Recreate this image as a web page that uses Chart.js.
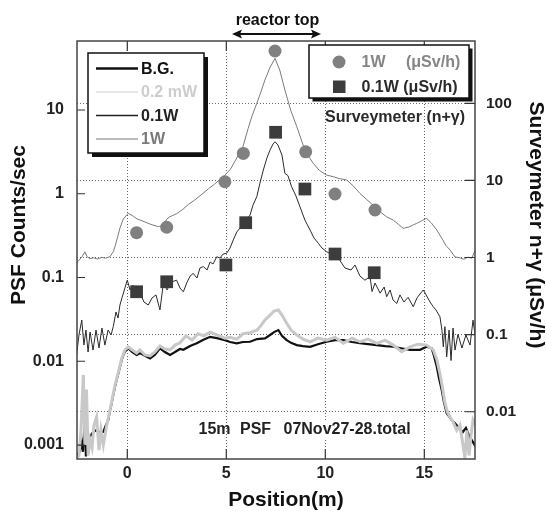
<!DOCTYPE html>
<html><head><meta charset="utf-8">
<script src="https://cdn.jsdelivr.net/npm/chart.js@4"></script>
<style>html,body{margin:0;padding:0;background:#fff}canvas{display:block}</style>
</head><body>
<canvas id="c" width="546" height="511" style="width:546px;height:511px"></canvas>
<script>
const FONT = '"Liberation Sans", Arial, Helvetica, sans-serif';

// axes
const xTicks = [0, 5, 10, 15];
const leftTicks = [0.001, 0.01, 0.1, 1, 10];
const leftTickLabels = ['0.001', '0.01', '0.1', '1', '10'];
const rightTicks = [0.01, 0.1, 1, 10, 100];
const rightTickLabels = ['0.01', '0.1', '1', '10', '100'];
const xMin = -2.54, xMax = 17.56;
const leftMin = 0.000681, leftMax = 66.7;
const rightMin = 0.002438, rightMax = 642.7;

// PSF counts/sec : B.G.
const bgX = [-2.56,-2.39,-2.30,-2.24,-2.14,-2.09,-1.98,-1.88,-1.73,-1.55,-1.38,-1.21,-1.08,-0.96,-0.87,-0.79,-0.71,-0.62,-0.54,-0.45,-0.37,-0.28,-0.20,-0.12,0.05,0.24,0.47,0.64,0.89,1.15,1.40,1.65,1.90,2.16,2.41,2.66,2.83,3.17,3.51,3.82,4.18,4.53,4.93,5.19,5.53,5.84,6.20,6.55,6.95,7.21,7.41,7.63,7.81,8.05,8.27,8.56,8.87,9.23,9.63,10.07,10.49,10.91,11.35,11.75,12.16,12.60,13.02,13.43,13.82,14.28,14.78,15.12,15.37,15.49,15.63,15.74,15.88,15.99,16.13,16.25,16.38,16.55,16.75,16.95,17.10,17.26,17.48,17.60];
const bgY = [0.0007,0.00087,0.00106,0.00083,0.00216,0.00073,0.00115,0.00126,0.00143,0.00151,0.0014,0.00144,0.00173,0.00199,0.00262,0.00315,0.00395,0.00497,0.00597,0.00718,0.00853,0.01035,0.0119,0.013,0.0143,0.0129,0.0119,0.0125,0.0116,0.0108,0.012,0.0143,0.0129,0.0119,0.0129,0.014,0.0137,0.0152,0.0164,0.0179,0.0196,0.0189,0.0179,0.017,0.0164,0.017,0.0171,0.0184,0.0188,0.0206,0.0223,0.0236,0.0201,0.0179,0.0166,0.0156,0.0152,0.0149,0.016,0.0171,0.0179,0.0179,0.017,0.0164,0.016,0.0156,0.0152,0.0149,0.0143,0.0137,0.0137,0.0149,0.0143,0.0116,0.0086,0.0063,0.00454,0.00326,0.00239,0.00221,0.00199,0.00182,0.0016,0.00143,0.0016,0.0013,0.00106,0.00095];

// PSF counts/sec : 0.2 mW
const mwX = [-2.56,-2.44,-2.34,-2.22,-2.14,-2.06,-1.98,-1.88,-1.78,-1.68,-1.55,-1.43,-1.33,-1.21,-1.04,-0.96,-0.79,-0.62,-0.45,-0.28,-0.12,0.05,0.24,0.47,0.64,0.89,1.15,1.40,1.65,1.90,2.16,2.41,2.66,2.96,3.27,3.57,3.87,4.18,4.53,4.93,5.19,5.54,5.84,6.20,6.55,6.70,6.95,7.21,7.41,7.63,7.81,8.05,8.27,8.56,8.87,9.23,9.63,10.07,10.49,10.91,11.35,11.75,12.16,12.60,13.02,13.43,13.86,14.28,14.68,15.12,15.45,15.63,15.79,15.92,16.04,16.17,16.30,16.45,16.64,16.80,16.95,17.05,17.15,17.26,17.36,17.46,17.60];
const mwY = [0.0007,0.00075,0.0015,0.00686,0.001,0.0046,0.00075,0.00115,0.00093,0.00173,0.00216,0.00087,0.0015,0.001,0.00173,0.0021,0.00326,0.0052,0.0074,0.0109,0.0137,0.0148,0.0137,0.0125,0.0137,0.0119,0.0116,0.0129,0.0152,0.014,0.0137,0.0156,0.0166,0.0201,0.0179,0.0213,0.0201,0.0223,0.0206,0.0189,0.0193,0.0184,0.0213,0.0219,0.0236,0.0258,0.0311,0.0356,0.0398,0.0409,0.0356,0.0284,0.0236,0.0206,0.0184,0.0171,0.0189,0.0179,0.0193,0.0164,0.0189,0.0171,0.0184,0.0164,0.0179,0.0156,0.013,0.0149,0.016,0.0156,0.0137,0.0105,0.0071,0.0048,0.0032,0.00247,0.00216,0.0019,0.0015,0.00173,0.001,0.0007,0.0015,0.00075,0.00132,0.002,0.00173];

// PSF counts/sec : 0.1W
const w01X = [-2.56,-2.44,-2.30,-2.19,-2.09,-1.98,-1.88,-1.73,-1.58,-1.43,-1.28,-1.13,-0.97,-0.82,-0.71,-0.57,-0.47,-0.37,-0.27,-0.12,0,0.14,0.29,0.47,0.64,0.84,1.06,1.25,1.45,1.65,1.82,2.01,2.21,2.49,2.66,2.83,3.02,3.17,3.33,3.52,3.67,3.84,4.03,4.18,4.33,4.52,4.68,4.83,5.02,5.19,5.35,5.53,5.69,5.94,6.20,6.35,6.54,6.70,6.87,7.05,7.21,7.36,7.46,7.61,7.81,7.96,8.11,8.30,8.52,8.72,8.97,9.23,9.43,9.65,9.83,10.07,10.29,10.58,10.79,10.99,11.30,11.50,11.75,12.00,12.26,12.36,12.51,12.77,12.97,13.10,13.27,13.42,13.61,13.77,13.97,14.18,14.44,14.63,14.78,14.95,15.09,15.29,15.45,15.59,15.79,15.89,15.96,16.04,16.13,16.25,16.35,16.45,16.55,16.70,16.90,17.10,17.31,17.46,17.60];
const w01Y = [0.0119,0.0206,0.0311,0.0156,0.0236,0.0129,0.0223,0.0136,0.0236,0.0144,0.0249,0.0156,0.0236,0.0206,0.0259,0.0388,0.0328,0.047,0.057,0.075,0.093,0.071,0.081,0.0618,0.067,0.051,0.047,0.057,0.062,0.041,0.085,0.071,0.088,0.093,0.075,0.0676,0.088,0.104,0.112,0.0986,0.13,0.135,0.123,0.153,0.145,0.177,0.171,0.19,0.195,0.225,0.28,0.349,0.39,0.46,0.557,0.734,0.923,1.34,1.92,2.67,3.33,3.93,4.18,3.82,2.9,1.75,1.65,1.21,0.94,0.70,0.486,0.369,0.296,0.256,0.225,0.203,0.191,0.186,0.153,0.13,0.123,0.141,0.104,0.093,0.102,0.068,0.086,0.065,0.077,0.059,0.071,0.054,0.049,0.062,0.051,0.058,0.0448,0.057,0.0635,0.071,0.062,0.051,0.0448,0.041,0.034,0.0236,0.0149,0.0259,0.0113,0.0236,0.0102,0.0249,0.0136,0.021,0.0144,0.0206,0.0156,0.031,0.018];

// PSF counts/sec : 1W
const w1X = [-2.56,-2.45,-2.30,-2.14,-2.05,-1.90,-1.70,-1.50,-1.30,-1.10,-0.87,-0.70,-0.60,-0.45,-0.37,-0.20,0.05,0.30,0.50,0.64,0.90,1.20,1.57,1.80,2.00,2.16,2.50,2.80,3.10,3.40,3.82,4.10,4.40,4.70,4.93,5.20,5.50,5.84,6.10,6.30,6.54,6.75,6.95,7.20,7.46,7.70,7.96,8.25,8.56,8.90,9.20,9.39,9.70,10.07,10.40,10.70,11.08,11.40,11.75,12.10,12.50,12.80,13.10,13.43,13.70,13.94,14.20,14.40,14.62,14.90,15.12,15.35,15.63,15.90,16.10,16.30,16.55,16.80,17.00,17.20,17.40,17.56];
const w1Y = [0.149,0.16,0.175,0.203,0.18,0.168,0.172,0.166,0.174,0.17,0.178,0.205,0.244,0.33,0.39,0.5,0.585,0.54,0.5,0.486,0.46,0.43,0.405,0.42,0.5,0.532,0.58,0.65,0.75,0.84,1.01,1.15,1.3,1.5,1.67,1.95,2.6,3.65,6.0,8.5,12.0,16.5,22.8,32,41.4,30,17.3,10,6.32,3.7,2.7,2.31,1.9,1.67,1.6,1.52,1.46,1.25,1.01,0.85,0.70,0.6,0.53,0.486,0.43,0.387,0.40,0.42,0.444,0.48,0.509,0.45,0.369,0.29,0.24,0.213,0.176,0.172,0.165,0.175,0.17,0.21];

// Surveymeter (uSv/h)
const sm1X = [0.47, 1.99, 4.93, 5.86, 7.46, 9.01, 10.49, 12.51];
const sm1Y = [2.1, 2.47, 9.6, 22.4, 477, 23.5, 6.67, 4.13];
const sm01X = [0.47, 1.99, 4.98, 5.98, 7.49, 8.97, 10.49, 12.47];
const sm01Y = [0.36, 0.485, 0.80, 2.83, 42.1, 7.73, 1.11, 0.635];

const pts = (xs, ys) => xs.map((x, i) => ({x: x, y: ys[i]}));
const near = (a, b) => Math.abs(Math.log10(a) - Math.log10(b)) < 1e-6;
const tickFont = {family: FONT, size: 16, weight: 'bold'};

const deco = {
  id: 'deco',
  afterDraw(chart) {
    const c = chart.ctx, a = chart.chartArea;
    const sx = chart.scales.x, sy = chart.scales.y, sy2 = chart.scales.y2;
    c.save();
    // inward ticks
    c.strokeStyle = '#333'; c.lineWidth = 1.2; c.setLineDash([]);
    c.beginPath();
    leftTicks.forEach(v => { const y = sy.getPixelForValue(v); c.moveTo(a.left, y); c.lineTo(a.left + 8, y); });
    rightTicks.forEach(v => { const y = sy2.getPixelForValue(v); c.moveTo(a.right, y); c.lineTo(a.right - 10, y); });
    xTicks.forEach(v => { const x = sx.getPixelForValue(v); c.moveTo(x, a.top); c.lineTo(x, a.top + 10); c.moveTo(x, a.bottom); c.lineTo(x, a.bottom - 10); });
    c.stroke();
    // frame
    c.strokeStyle = '#444'; c.lineWidth = 1.5;
    c.strokeRect(a.left, a.top, a.right - a.left, a.bottom - a.top);

    // left legend
    c.fillStyle = '#111'; c.fillRect(92, 57, 116, 100);
    c.fillStyle = '#fff'; c.fillRect(88, 53, 116, 100);
    c.strokeStyle = '#111'; c.lineWidth = 1.5; c.strokeRect(88, 53, 116, 100);
    const lrows = [
      {t: 'B.G.', y: 68.5, lc: '#111', lw: 2.5, tc: '#111'},
      {t: '0.2 mW', y: 92, lc: '#cfcfcf', lw: 1.2, tc: '#cdcdcd'},
      {t: '0.1W', y: 115.5, lc: '#222', lw: 1.3, tc: '#222'},
      {t: '1W', y: 139, lc: '#7a7a7a', lw: 1.1, tc: '#7a7a7a'}
    ];
    c.font = 'bold 16px ' + FONT; c.textBaseline = 'middle'; c.textAlign = 'left';
    lrows.forEach(r => {
      c.strokeStyle = r.lc; c.lineWidth = r.lw;
      c.beginPath(); c.moveTo(96, r.y); c.lineTo(138, r.y); c.stroke();
      c.fillStyle = r.tc; c.fillText(r.t, 141, r.y + 1);
    });

    // right legend
    c.fillStyle = '#111'; c.fillRect(312.5, 48.5, 160, 53);
    c.fillStyle = '#fff'; c.fillRect(309, 45, 160, 53);
    c.strokeStyle = '#111'; c.lineWidth = 1.5; c.strokeRect(309, 45, 160, 53);
    c.fillStyle = '#808080';
    c.beginPath(); c.arc(339, 62, 6.5, 0, Math.PI * 2); c.fill();
    c.fillStyle = '#3c3c3c'; c.fillRect(333, 80.5, 12.5, 12.5);
    c.fillStyle = '#858585';
    c.fillText('1W', 361.5, 62.5);
    c.fillText('(\u03bcSv/h)', 406, 62.5);
    c.fillStyle = '#2a2a2a';
    c.fillText('0.1W (\u03bcSv/h)', 361.5, 87.5);
    c.fillText('Surveymeter (n+\u03b3)', 325, 117.5);

    // bottom annotation
    c.fillStyle = '#fff'; c.fillRect(281, 420, 138, 19);
    c.fillStyle = '#222';
    c.fillText('15m', 198.5, 430);
    c.fillText('PSF', 240, 430);
    c.fillText('07Nov27-28.total', 283.5, 430);

    // reactor top
    c.fillStyle = '#111'; c.textAlign = 'center'; c.textBaseline = 'alphabetic';
    c.fillText('reactor top', 277.5, 25);
    c.strokeStyle = '#111'; c.lineWidth = 2;
    c.beginPath(); c.moveTo(238, 34); c.lineTo(315, 34); c.stroke();
    c.beginPath(); c.moveTo(232, 34); c.lineTo(242, 29.5); c.lineTo(240, 34); c.lineTo(242, 38.5); c.closePath(); c.fill();
    c.beginPath(); c.moveTo(321, 34); c.lineTo(311, 29.5); c.lineTo(313, 34); c.lineTo(311, 38.5); c.closePath(); c.fill();

    // axis titles
    c.fillStyle = '#111'; c.textAlign = 'center'; c.textBaseline = 'middle';
    c.font = 'bold 21px ' + FONT;
    c.save(); c.translate(19, 225); c.rotate(-Math.PI / 2); c.fillText('PSF Counts/sec', 0, 0); c.restore();
    c.save(); c.translate(536, 225); c.rotate(Math.PI / 2); c.fillText('Surveymeter n+\u03b3 (\u03bcSv/h)', 0, 0); c.restore();
    c.fillText('Position(m)', 286, 500);
    c.restore();
  }
};

new Chart(document.getElementById('c'), {
  type: 'line',
  data: {
    datasets: [
      {label: '0.1W (uSv/h)', data: pts(sm01X, sm01Y), yAxisID: 'y2', showLine: false, pointStyle: 'rect', pointRadius: 9, pointBackgroundColor: '#3c3c3c', pointBorderWidth: 0, order: 0},
      {label: '1W (uSv/h)', data: pts(sm1X, sm1Y), yAxisID: 'y2', showLine: false, pointStyle: 'circle', pointRadius: 6.5, pointBackgroundColor: '#808080', pointBorderWidth: 0, order: 1},
      {label: '0.2 mW', data: pts(mwX, mwY), yAxisID: 'y', borderColor: '#c8c8c8', borderWidth: 3, pointRadius: 0, order: 2},
      {label: 'B.G.', data: pts(bgX, bgY), yAxisID: 'y', borderColor: '#111', borderWidth: 2.2, pointRadius: 0, order: 3},
      {label: '0.1W', data: pts(w01X, w01Y), yAxisID: 'y', borderColor: '#2a2a2a', borderWidth: 1, pointRadius: 0, order: 4},
      {label: '1W', data: pts(w1X, w1Y), yAxisID: 'y', borderColor: '#7a7a7a', borderWidth: 1, pointRadius: 0, order: 5}
    ]
  },
  options: {
    responsive: false, animation: false, devicePixelRatio: 1,
    layout: {padding: {top: 41, left: 0, right: 0, bottom: 0}},
    plugins: {legend: {display: false}, tooltip: {enabled: false}, title: {display: false}},
    elements: {line: {tension: 0}},
    scales: {
      x: {
        type: 'linear', position: 'bottom', min: xMin, max: xMax, bounds: 'data',
        afterBuildTicks: s => { s.ticks = xTicks.map(v => ({value: v})); },
        afterFit: s => { s.height = 52; },
        grid: {color: '#666', lineWidth: 1, drawTicks: false},
        border: {display: false, dash: [1, 2]},
        ticks: {padding: 5, color: '#222', font: tickFont, maxRotation: 0, autoSkip: false, callback: v => String(v)}
      },
      y: {
        type: 'logarithmic', position: 'left', min: leftMin, max: leftMax, bounds: 'data',
        afterBuildTicks: s => { s.ticks = leftTicks.map(v => ({value: v})); },
        afterFit: s => { s.width = 77; },
        grid: {display: false, drawTicks: false},
        border: {display: false},
        ticks: {padding: 13, color: '#222', font: tickFont, autoSkip: false,
          callback: v => { const i = leftTicks.findIndex(t => near(t, v)); return i >= 0 ? leftTickLabels[i] : ''; }}
      },
      y2: {
        type: 'logarithmic', position: 'right', min: rightMin, max: rightMax, bounds: 'data',
        afterBuildTicks: s => { s.ticks = rightTicks.map(v => ({value: v})); },
        afterFit: s => { s.width = 71; },
        grid: {color: '#666', lineWidth: 1, drawTicks: false},
        border: {display: false, dash: [1, 2]},
        ticks: {padding: 11, color: '#222', font: {family: FONT, size: 15.5, weight: 'bold'}, autoSkip: false,
          callback: v => { const i = rightTicks.findIndex(t => near(t, v)); return i >= 0 ? rightTickLabels[i] : ''; }}
      }
    }
  },
  plugins: [deco]
});
</script>
</body></html>
